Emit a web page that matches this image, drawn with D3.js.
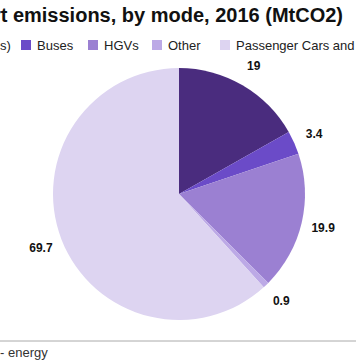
<!DOCTYPE html>
<html><head><meta charset="utf-8">
<script src="https://cdn.jsdelivr.net/npm/d3@7"></script>
<style>body{margin:0;background:#fff;}svg{display:block;font-family:"Liberation Sans",Arial,sans-serif;}</style>
</head><body><svg id="c" width="356" height="364"></svg>
<script>
const categories = ["Cars and Vans (s)", "Buses", "HGVs", "Other", "Passenger Cars and Taxis"];
const legendLabels = ["s)", "Buses", "HGVs", "Other", "Passenger Cars and Taxis"];
const values = [19, 3.4, 19.9, 0.9, 69.7];
const colors = ["#4a2c7e", "#6b4bc8", "#9b80d2", "#bca9e6", "#ddd4f1"];

const svg = d3.select("#c");
const cx = 179, cy = 194, r = 126;

svg.append("text").attr("x", 343).attr("y", 22).attr("text-anchor", "end")
  .attr("font-size", 20).attr("font-weight", "bold").attr("fill", "#111")
  .text("Domestic transport emissions, by mode, 2016 (MtCO2)");

// legend
const legX = [-50, 21, 88, 152, 220];
const lg = svg.append("g");
legendLabels.forEach((d, i) => {
  if (i > 0) lg.append("rect").attr("x", legX[i]).attr("y", 40).attr("width", 10).attr("height", 10).attr("fill", colors[i]);
  lg.append("text").attr("x", i === 0 ? 0 : legX[i] + 16).attr("y", 49.5)
    .attr("font-size", 13).attr("fill", "#222").text(d);
});

const pie = d3.pie().sort(null).value(d => d);
const arcs = pie(values);
const arc = d3.arc().innerRadius(0).outerRadius(r);
const labelArc = d3.arc().innerRadius(148).outerRadius(148);
const g = svg.append("g").attr("transform", `translate(${cx},${cy})`);
g.selectAll("path").data(arcs).join("path").attr("d", arc).attr("fill", (d, i) => colors[i]);
g.selectAll("text").data(arcs).join("text")
  .attr("transform", d => `translate(${labelArc.centroid(d)})`)
  .attr("text-anchor", "middle").attr("dy", "0.35em")
  .attr("font-size", 12).attr("font-weight", "bold").attr("fill", "#111")
  .text(d => d.data);

svg.append("line").attr("x1", 0).attr("x2", 356).attr("y1", 341).attr("y2", 341)
  .attr("stroke", "#aaa").attr("stroke-width", 1);
svg.append("text").attr("x", 0).attr("y", 357).attr("font-size", 13).attr("fill", "#333")
  .text("- energy");
</script></body></html>
